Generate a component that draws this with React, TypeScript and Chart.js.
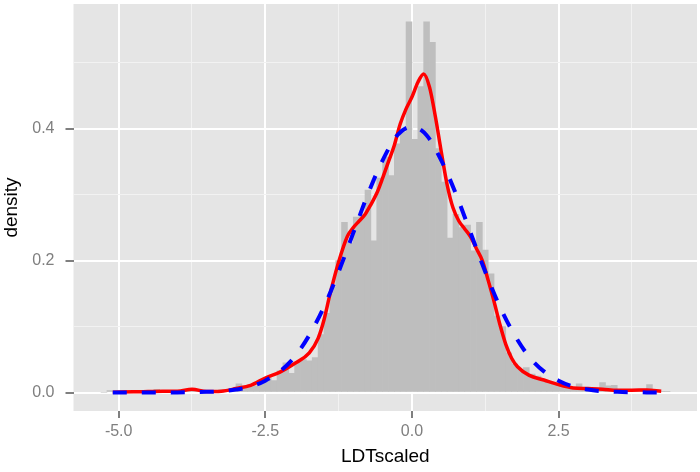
import React, { useEffect, useRef } from 'react';
import { Chart, registerables } from 'chart.js';

Chart.register(...registerables);

// Histogram: bins of width 0.1 starting at -5.3 (density per bin)
const binStart = -5.3;
const binWidth = 0.1;
const histDensity = [
  0, 0.003, 0, 0, 0, 0, 0.002, 0, 0, 0.005,
  0, 0.002, 0, 0.002, 0.003, 0.004, 0.002, 0, 0.002, 0.002,
  0.004, 0.002, 0.006, 0.013, 0.008, 0.012, 0.01, 0.016, 0.022, 0.018,
  0.033, 0.045, 0.029, 0.045, 0.05, 0.048, 0.053, 0.088, 0.12, 0.16,
  0.2, 0.258, 0.227, 0.266, 0.27, 0.307, 0.23, 0.325, 0.357, 0.329,
  0.377, 0.395, 0.562, 0.384, 0.464, 0.562, 0.531, 0.37, 0.319, 0.234,
  0.27, 0.25, 0.254, 0.215, 0.258, 0.216, 0.18, 0.116, 0.1, 0.06,
  0.043, 0.035, 0.038, 0.028, 0.025, 0.02, 0.016, 0.015, 0.012, 0.008,
  0.006, 0.013, 0.005, 0.004, 0.006, 0.015, 0.01, 0.011, 0.003, 0.004,
  0.002, 0.003, 0.002, 0.012, 0.003, 0.002, 0.002,
];

// Kernel density estimate (red solid)
const kdeX = [
  -5.1, -4.75, -4.5, -4.25, -4.0, -3.75, -3.5, -3.25, -3.0, -2.75,
  -2.5, -2.25, -2.0, -1.75, -1.6, -1.5, -1.4, -1.25, -1.1, -1.0,
  -0.9, -0.8, -0.7, -0.6, -0.5, -0.4, -0.3, -0.2, -0.1, 0.0,
  0.1, 0.2, 0.3, 0.4, 0.5, 0.6, 0.7, 0.8, 0.9, 1.0,
  1.1, 1.2, 1.3, 1.4, 1.5, 1.6, 1.7, 1.8, 2.0, 2.25,
  2.5, 2.75, 3.0, 3.25, 3.5, 3.75, 4.0, 4.25,
];
const kdeY = [
  0.0005, 0.001, 0.0015, 0.002, 0.002, 0.005, 0.0015, 0.002, 0.006, 0.011,
  0.022, 0.031, 0.044, 0.06, 0.082, 0.11, 0.148, 0.198, 0.237, 0.25,
  0.26, 0.27, 0.285, 0.302, 0.325, 0.35, 0.375, 0.407, 0.43, 0.448,
  0.47, 0.483, 0.463, 0.418, 0.365, 0.315, 0.28, 0.26, 0.248, 0.236,
  0.218, 0.2, 0.17, 0.138, 0.103, 0.073, 0.052, 0.039, 0.026, 0.019,
  0.012, 0.007, 0.006, 0.005, 0.0035, 0.0035, 0.004, 0.002,
];

// Fitted normal curve (blue dashed)
const normX = [
  -5.1, -4.5, -4.0, -3.5, -3.25, -3.0, -2.75, -2.5, -2.25, -2.0,
  -1.75, -1.5, -1.25, -1.0, -0.75, -0.5, -0.25, 0.0, 0.25, 0.5,
  0.75, 1.0, 1.25, 1.5, 1.75, 2.0, 2.25, 2.5, 2.75, 3.0,
  3.25, 3.5, 4.0, 4.25,
];
const normY = [
  0, 0.0001, 0.0002, 0.001, 0.002, 0.0045, 0.009, 0.018, 0.032, 0.054,
  0.087, 0.13, 0.183, 0.242, 0.301, 0.352, 0.39, 0.403, 0.39, 0.352,
  0.301, 0.242, 0.183, 0.13, 0.087, 0.054, 0.032, 0.018, 0.009, 0.0045,
  0.002, 0.001, 0.0002, 0.0001,
];

const xMajorTicks = [-5, -2.5, 0, 2.5];
const xTickLabels = ['-5.0', '-2.5', '0.0', '2.5'];
const xMinorTicks = [-3.75, -1.25, 1.25, 3.75];
const yMajorTicks = [0, 0.2, 0.4];
const yTickLabels = ['0.0', '0.2', '0.4'];
const yMinorTicks = [0.1, 0.3, 0.5];

const FONT = "'Liberation Sans', Arial, Helvetica, sans-serif";

export default function App() {
  const ref = useRef<HTMLCanvasElement>(null);

  useEffect(() => {
    const canvas = ref.current;
    if (!canvas) return;

    const histData = histDensity.map((d, i) => ({
      x: Math.round((binStart + binWidth * (i + 0.5)) * 1000) / 1000,
      y: d,
    }));
    const kdeData = kdeX.map((x, i) => ({ x, y: kdeY[i] }));
    const normData = normX.map((x, i) => ({ x, y: normY[i] }));

    const idx = (arr: number[], v: number) => arr.findIndex((a) => Math.abs(a - v) < 1e-6);

    const panelBg = {
      id: 'panelBg',
      beforeDraw(chart: any) {
        const { ctx, chartArea } = chart;
        ctx.save();
        ctx.fillStyle = '#E5E5E5';
        ctx.fillRect(chartArea.left, chartArea.top, chartArea.right - chartArea.left, chartArea.bottom - chartArea.top);
        ctx.restore();
      },
    };

    const chart = new Chart(canvas, {
      type: 'bar',
      data: {
        datasets: [
          {
            type: 'line',
            label: 'normal',
            data: normData,
            borderColor: '#0000FF',
            borderWidth: 4,
            borderDash: [14, 15],
            pointRadius: 0,
            cubicInterpolationMode: 'monotone',
            fill: false,
            order: 1,
          } as any,
          {
            type: 'line',
            label: 'kde',
            data: kdeData,
            borderColor: '#FF0000',
            borderWidth: 3.5,
            pointRadius: 0,
            cubicInterpolationMode: 'monotone',
            fill: false,
            order: 2,
          } as any,
          {
            type: 'bar',
            label: 'hist',
            data: histData,
            backgroundColor: '#BEBEBE',
            borderWidth: 0,
            barPercentage: 1,
            categoryPercentage: 1,
            order: 3,
          } as any,
        ],
      },
      plugins: [panelBg],
      options: {
        animation: false,
        responsive: false,
        devicePixelRatio: 1,
        layout: { padding: { top: 4, right: 3, left: 0, bottom: 0 } },
        plugins: { legend: { display: false }, tooltip: { enabled: false } },
        scales: {
          x: {
            type: 'linear',
            min: -5.77,
            max: 4.86,
            offset: false,
            afterBuildTicks: (s: any) => {
              s.ticks = [...xMajorTicks, ...xMinorTicks].sort((a, b) => a - b).map((v) => ({ value: v }));
            },
            afterFit: (s: any) => {
              s.height = 61;
              s.paddingLeft = 0;
              s.paddingRight = 0;
            },
            border: { display: false },
            grid: {
              offset: false,
              color: (c: any) => (idx(xMajorTicks, c.tick.value) >= 0 ? '#FFFFFF' : '#F2F2F2'),
              lineWidth: (c: any) => (idx(xMajorTicks, c.tick.value) >= 0 ? 2 : 1),
              tickColor: (c: any) => (idx(xMajorTicks, c.tick.value) >= 0 ? '#7F7F7F' : 'rgba(0,0,0,0)'),
              tickLength: 7,
              tickWidth: 2,
            },
            ticks: {
              autoSkip: false,
              maxRotation: 0,
              padding: 4,
              color: '#7F7F7F',
              font: { family: FONT, size: 16 },
              callback: (v: any) => {
                const i = idx(xMajorTicks, Number(v));
                return i >= 0 ? xTickLabels[i] : '';
              },
            },
            title: {
              display: true,
              text: 'LDTscaled',
              color: '#000000',
              font: { family: FONT, size: 19 },
              padding: { top: 0, bottom: 4 },
            },
          },
          y: {
            type: 'linear',
            min: -0.028,
            max: 0.589,
            afterBuildTicks: (s: any) => {
              s.ticks = [...yMajorTicks, ...yMinorTicks].sort((a, b) => a - b).map((v) => ({ value: v }));
            },
            afterFit: (s: any) => {
              s.width = 73.5;
              s.paddingTop = 0;
              s.paddingBottom = 0;
            },
            border: { display: false },
            grid: {
              color: (c: any) => (idx(yMajorTicks, c.tick.value) >= 0 ? '#FFFFFF' : '#F2F2F2'),
              lineWidth: (c: any) => (idx(yMajorTicks, c.tick.value) >= 0 ? 2 : 1),
              tickColor: (c: any) => (idx(yMajorTicks, c.tick.value) >= 0 ? '#7F7F7F' : 'rgba(0,0,0,0)'),
              tickLength: 8,
              tickWidth: 2,
            },
            ticks: {
              autoSkip: false,
              padding: 11,
              color: '#7F7F7F',
              font: { family: FONT, size: 16 },
              callback: (v: any) => {
                const i = idx(yMajorTicks, Number(v));
                return i >= 0 ? yTickLabels[i] : '';
              },
            },
            title: {
              display: true,
              text: 'density',
              color: '#000000',
              font: { family: FONT, size: 19 },
              padding: { top: 0, bottom: 0 },
            },
          },
        },
      } as any,
    });

    return () => chart.destroy();
  }, []);

  return (
    <div style={{ position: 'fixed', left: 0, top: 0, width: 700, height: 472, background: '#FFFFFF' }}>
      <canvas ref={ref} width={700} height={472} style={{ width: 700, height: 472, display: 'block' }} />
    </div>
  );
}
